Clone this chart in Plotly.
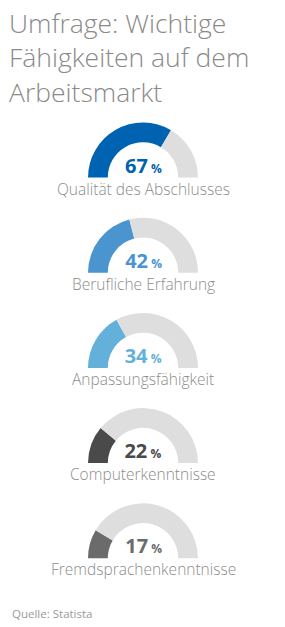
import plotly.graph_objects as go

W, H = 285, 627

categories = ["Qualität des Abschlusses", "Berufliche Erfahrung", "Anpassungsfähigkeit",
              "Computerkenntnisse", "Fremdsprachenkenntnisse"]
values = [67, 42, 34, 22, 17]
colors = ["#0063b1", "#4a94cf", "#63b0da", "#4a4a4a", "#6b6b6b"]
track = "#dedede"

cx = 143
cy0 = 177.5
step = 95.2
R = 55

fig = go.Figure()
for i, (cat, v, c) in enumerate(zip(categories, values, colors)):
    cy = cy0 + i * step
    fig.add_trace(go.Pie(
        values=[v, 100 - v, 100],
        marker=dict(colors=[c, track, "rgba(0,0,0,0)"], line=dict(width=0)),
        hole=0.64, sort=False, direction="clockwise", rotation=-90,
        textinfo="none", hoverinfo="skip", showlegend=False,
        domain=dict(x=[(cx - R) / W, (cx + R) / W], y=[1 - (cy + R) / H, 1 - (cy - R) / H]),
    ))
    fig.add_annotation(
        x=cx / W, y=1 - (cy + 23) / H, xref="paper", yref="paper",
        xanchor="center", yanchor="bottom", showarrow=False, borderpad=0,
        text=(f"<span style='font-size:20px;color:{c}'><b>{v}</b></span>"
              f"<span style='font-size:12px;color:{c}'> <b>%</b></span>"
              f"<br><span style='font-size:15.5px;color:#8c8c8c'>{cat}</span>"),
        font=dict(family="Segoe UI, Open Sans, sans-serif", size=16.7, color="#8c8c8c", weight=300),
    )

fig.add_annotation(
    x=7 / W, y=1 - 3 / H, xref="paper", yref="paper", xanchor="left", yanchor="top",
    showarrow=False, align="left",
    text="Umfrage: Wichtige<br>Fähigkeiten auf dem<br>Arbeitsmarkt",
    font=dict(family="Segoe UI Light, Open Sans, sans-serif", size=26.5, color="#8a8a8a", weight=300),
)
fig.add_annotation(
    x=10 / W, y=1 - 604 / H, xref="paper", yref="paper", xanchor="left", yanchor="top",
    showarrow=False, text="Quelle: Statista",
    font=dict(family="Segoe UI, Open Sans, sans-serif", size=11.5, color="#9a9a9a"),
)

fig.update_layout(width=W, height=H, margin=dict(l=0, r=0, t=0, b=0),
                  paper_bgcolor="white", plot_bgcolor="white")
fig.write_html("out.html", config={"displayModeBar": False})
